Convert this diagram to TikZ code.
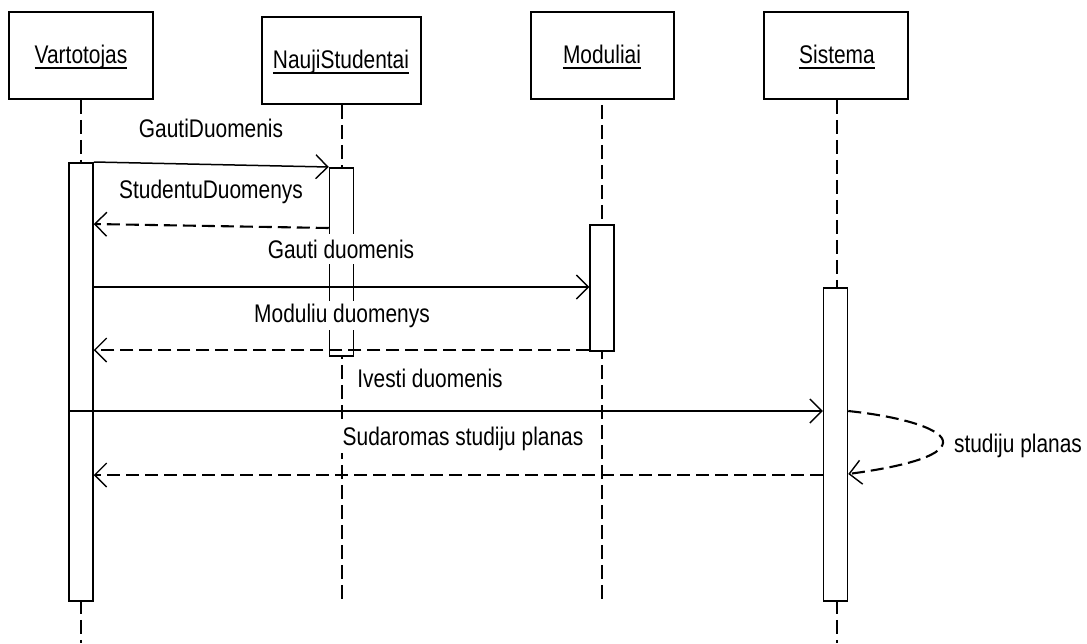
\documentclass[tikz,border=0pt]{standalone}
\usepackage{fontspec}
\setmainfont{Liberation Sans}[FakeStretch=0.82]
\usetikzlibrary{arrows.meta}

\tikzset{
  objbox/.style={draw, line width=1.5pt, fill=white, inner sep=0pt},
  objname/.style={inner sep=0pt, anchor=base, font=\fontsize{25.5}{30}\selectfont},
  lifeline/.style={line width=2.1pt, dash pattern=on 14pt off 6pt},
  actbar/.style={draw, line width=1.5pt, fill=white, inner sep=0pt, minimum width=24pt, anchor=north},
  msgtip/.style={-{Straight Barb[length=12pt, width=24pt, line width=1.4pt]}},
  callmsg/.style={msgtip, line width=1.5pt},
  retmsg/.style={msgtip, line width=2.1pt, dash pattern=on 13pt off 6pt},
  msglabel/.style={fill=white, inner sep=3pt, anchor=base, font=\fontsize{25.5}{30}\selectfont},
  uline/.style={line width=1.4pt}
}

\begin{document}
\begin{tikzpicture}[x=1pt, y=-1pt]
\useasboundingbox (0,0) rectangle (1087,643);

% object boxes
\node[objbox, minimum width=144pt, minimum height=87pt] (o1) at (81,55.5) {};
\node[objbox, minimum width=159pt, minimum height=87pt] (o2) at (341.5,60.5) {};
\node[objbox, minimum width=143pt, minimum height=87pt] (o3) at (602.5,55.5) {};
\node[objbox, minimum width=144pt, minimum height=87pt] (o4) at (836,55.5) {};

% object names (underlined)
\node[objname] (n1) at (81,63) {Vartotojas};
\node[objname] (n2) at (341,68) {NaujiStudentai};
\node[objname] (n3) at (602,63) {Moduliai};
\node[objname] (n4) at (837,63) {Sistema};
\foreach \n in {n1,n2,n3,n4}
  \draw[uline] ([yshift=-5pt]\n.base west) -- ([yshift=-5pt]\n.base east);

% lifeline ends
\coordinate (e1) at (81,643);
\coordinate (e2) at (342,600);
\coordinate (e3) at (602,600);
\coordinate (e4) at (837,643);

% lifelines
\draw[lifeline] (o1.south -| 81,0) -- (e1);
\draw[lifeline] (o2.south -| 342,0) -- (e2);
\draw[lifeline, dash phase=15pt] (o3.south -| 602,0) -- (e3);
\draw[lifeline] (o4.south -| 837,0) -- (e4);

% activation bars
\node[actbar, minimum height=438pt] (a1) at (81,162) {};
\node[actbar, minimum height=188pt] (a2) at (341.5,167) {};
\node[actbar, minimum height=126pt] (a3) at (602,224) {};
\node[actbar, minimum height=313pt] (a4) at (835.5,287) {};

% messages
\draw[callmsg] (a1.north east) -- (a2.north west);
\draw[retmsg] (a2.west |- 0,228) -- (a1.east |- 0,224);
\draw[callmsg] (a1.east |- 0,287) -- (a3.west |- 0,287);
\draw[retmsg] (a3.west |- 0,350) -- (a1.east |- 0,350);
\draw[callmsg] (a1.west |- 0,411) -- (a4.west |- 0,411);
\draw[retmsg] (a4.west |- 0,475) -- (a1.east |- 0,475);
\draw[retmsg] (a4.east |- 0,411)
  .. controls (905,417) and (945,430) .. (943,443)
  .. controls (941,457) and (900,467) .. (a4.east |- 0,474);

% message labels
\node[msglabel] (l1) at (211,137) {GautiDuomenis};
\node[msglabel] (l2) at (211,198) {StudentuDuomenys};
\node[msglabel, inner ysep=6pt] (l3) at (341,258) {Gauti duomenis};
\node[msglabel] (l4) at (342,322) {Moduliu duomenys};
\node[msglabel] (l5) at (430,387) {Ivesti duomenis};
\node[msglabel] (l6) at (463,445) {Sudaromas studiju planas};
\node[msglabel] (l7) at (1018,452) {studiju planas};
\end{tikzpicture}
\end{document}
